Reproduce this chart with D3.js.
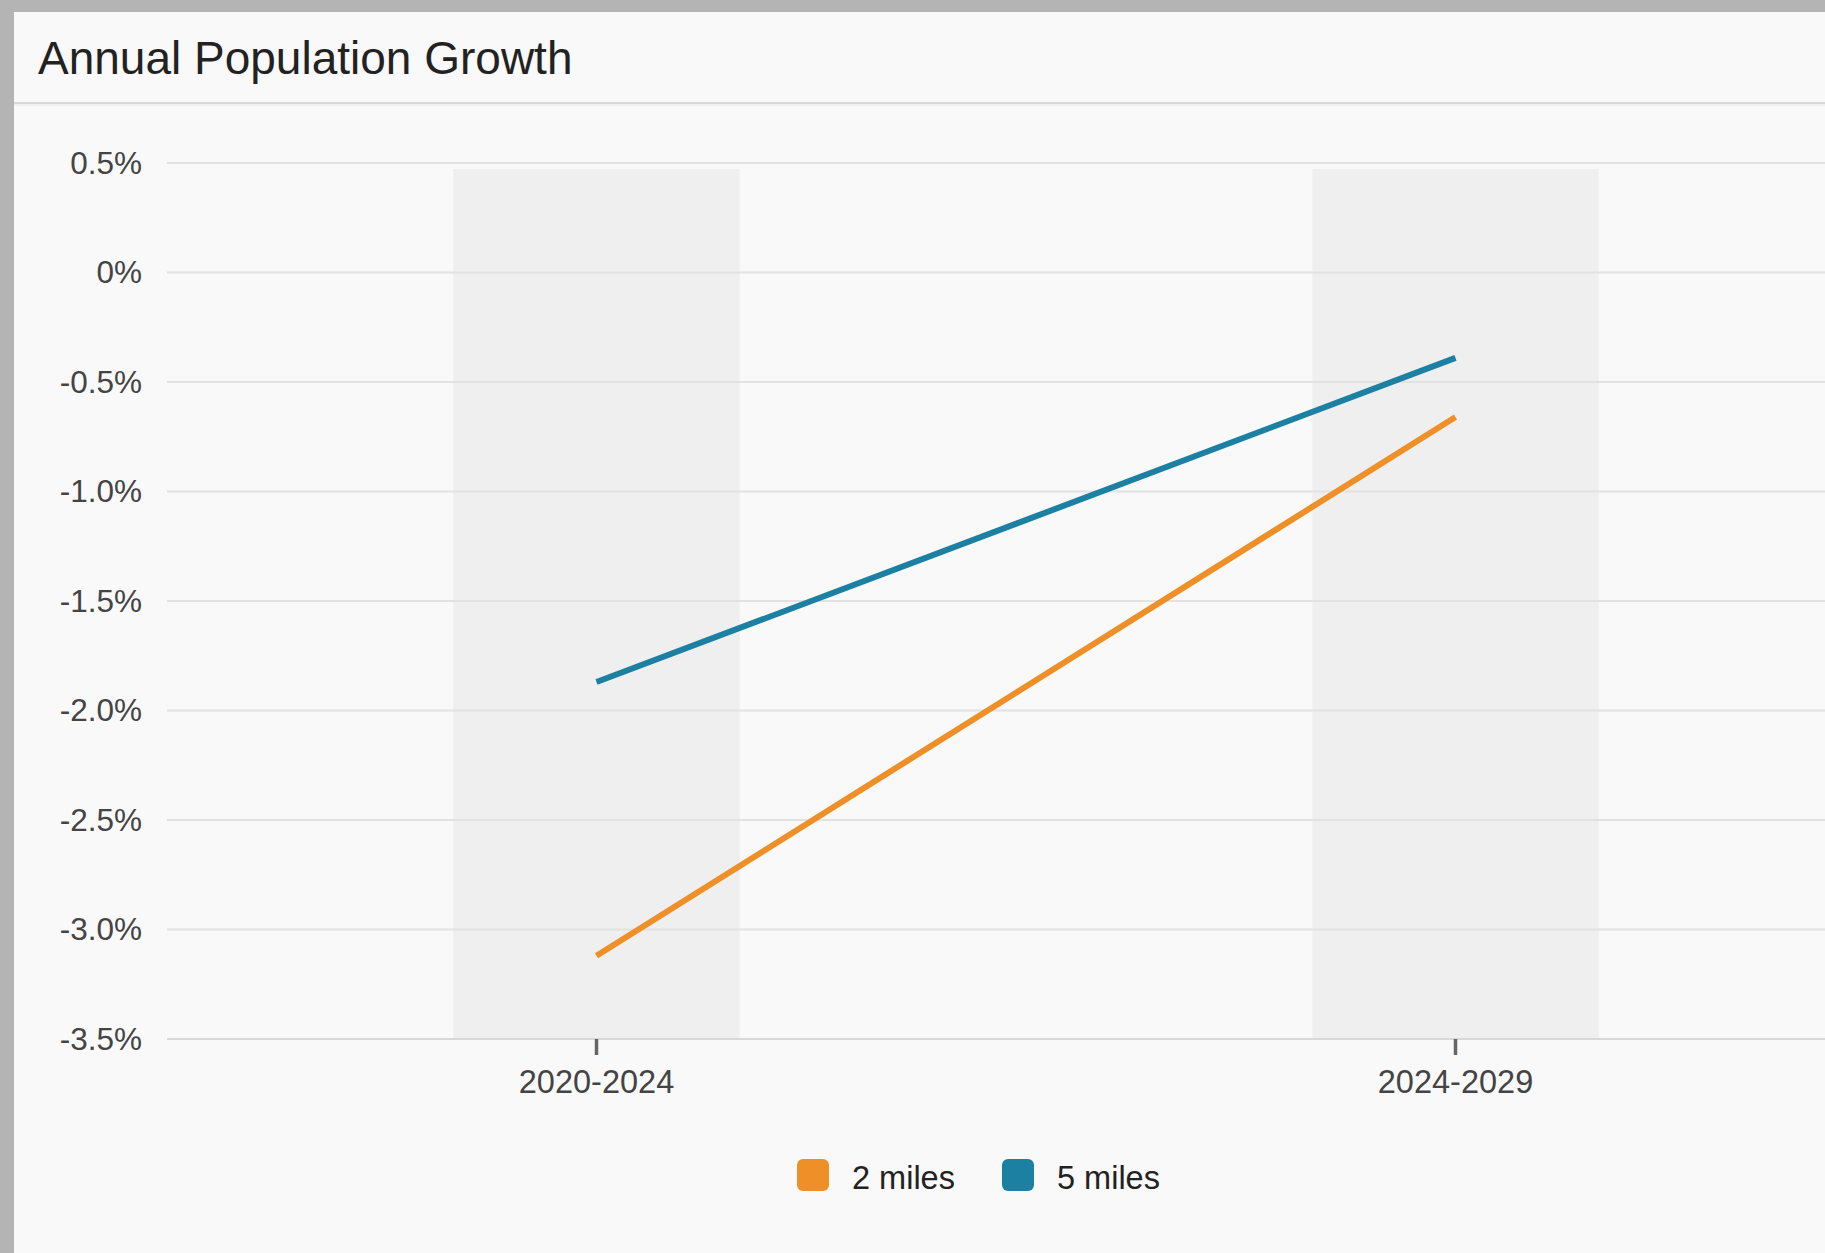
<!DOCTYPE html>
<html>
<head>
<meta charset="utf-8">
<script src="https://cdn.jsdelivr.net/npm/d3@7"></script>
<style>
  html, body { margin: 0; padding: 0; background: #b3b4b3; }
  svg { display: block; font-family: "Liberation Sans", Arial, Helvetica, sans-serif; }
</style>
</head>
<body>
<svg id="chart" width="1825" height="1253"></svg>
<script>
const title = "Annual Population Growth";
const categories = ["2020-2024", "2024-2029"];
const seriesNames = ["2 miles", "5 miles"];
const twoMiles = [-3.12, -0.66];
const fiveMiles = [-1.87, -0.39];
const yTicks = [0.5, 0, -0.5, -1.0, -1.5, -2.0, -2.5, -3.0, -3.5];
const colors = ["#ee9027", "#1c80a2"];

const W = 1825, H = 1253;
const svg = d3.select("#chart");

// card
svg.append("rect").attr("x", 14).attr("y", 12).attr("width", W).attr("height", H)
  .attr("fill", "#f9f9f9");
svg.append("text").attr("x", 38).attr("y", 74)
  .attr("font-size", 46).attr("fill", "#222").text(title);
svg.append("rect").attr("x", 14).attr("y", 102).attr("width", W).attr("height", 2).attr("fill", "#d9d9d9");
svg.append("rect").attr("x", 14).attr("y", 104).attr("width", W).attr("height", 2).attr("fill", "#efefef");

const left = 167, right = 1885;
const x = d3.scaleBand().domain(categories).range([left, right]).padding(0);
const y = d3.scaleLinear().domain([-3.5, 0.5]).range([1039, 163]);

// shaded bands
const bw = x.bandwidth() / 3;
const bandTop = y(0.5) + 6;
svg.append("g").selectAll("rect").data(categories).join("rect")
  .attr("x", d => x(d) + x.bandwidth() / 2 - bw / 2)
  .attr("y", bandTop)
  .attr("width", bw)
  .attr("height", y(-3.5) - bandTop)
  .attr("fill", "#efefef");

// gridlines
svg.append("g").selectAll("line").data(yTicks).join("line")
  .attr("x1", left).attr("x2", W)
  .attr("y1", d => y(d)).attr("y2", d => y(d))
  .attr("stroke", d => d === -3.5 ? "#d8d8d8" : "#e2e2e2")
  .attr("stroke-width", 2);

// y axis
const fmt = d => d === 0 ? "0%" : d3.format(".1f")(d).replace("\u2212", "-") + "%";
const yAxis = svg.append("g").attr("transform", `translate(${left},0)`)
  .call(d3.axisLeft(y).tickValues(yTicks).tickFormat(fmt).tickSize(0).tickPadding(25));
yAxis.select(".domain").remove();
yAxis.selectAll("text").attr("font-size", 31.5).attr("fill", "#444")
  .attr("font-family", "'Liberation Sans', Arial, sans-serif");

// x axis
const xAxis = svg.append("g").attr("transform", `translate(0,${y(-3.5)})`)
  .call(d3.axisBottom(x).tickSizeInner(16).tickSizeOuter(0).tickPadding(15));
xAxis.select(".domain").remove();
xAxis.selectAll(".tick line").attr("stroke", "#666").attr("stroke-width", 3.5);
xAxis.selectAll("text").attr("font-size", 32.5).attr("fill", "#444")
  .attr("font-family", "'Liberation Sans', Arial, sans-serif");

// lines
const series = [twoMiles, fiveMiles];
const line = d3.line().x((d, i) => x(categories[i]) + x.bandwidth() / 2).y(d => y(d));
svg.append("g").selectAll("path").data(series).join("path")
  .attr("d", d => line(d))
  .attr("fill", "none")
  .attr("stroke", (d, i) => colors[i])
  .attr("stroke-width", 6);

// legend
const legendX = [797, 1002];
const lg = svg.append("g").selectAll("g").data(seriesNames).join("g")
  .attr("transform", (d, i) => `translate(${legendX[i]},1159)`);
lg.append("rect").attr("width", 32).attr("height", 32).attr("rx", 6)
  .attr("fill", (d, i) => colors[i]);
lg.append("text").attr("x", 55).attr("y", 30).attr("font-size", 32.5).attr("fill", "#222")
  .text(d => d);
</script>
</body>
</html>
